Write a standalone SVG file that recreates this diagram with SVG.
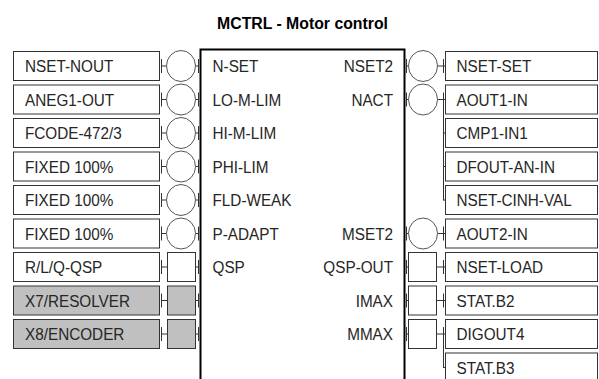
<svg xmlns="http://www.w3.org/2000/svg" width="599" height="379" viewBox="0 0 599 379">
<defs>
<style>
.box{fill:#fff;stroke:#333;stroke-width:1}
.gray{fill:#c0c0c0}
.pin{fill:#fff;stroke:#555;stroke-width:1}
.main{fill:#fff;stroke:#000;stroke-width:2}
.w{stroke:#333;stroke-width:1;fill:none}
.t{font-family:"Liberation Sans",Arial,sans-serif;font-size:17px;fill:#262626}
.e{text-anchor:end}
.title{font-family:"Liberation Sans",Arial,sans-serif;font-size:17px;font-weight:bold;fill:#000;text-anchor:middle}
</style>
</defs>
<rect width="599" height="379" fill="#fff"/>
<text class="title" transform="translate(302.5,29) scale(0.93,1)">MCTRL - Motor control</text>

<g id="mctrl">
<rect class="main" x="200.5" y="49.5" width="204" height="345"/>
<text class="t" transform="translate(212.5,72) scale(0.9,1)">N-SET</text>
<text class="t" transform="translate(212.5,105.5) scale(0.9,1)">LO-M-LIM</text>
<text class="t" transform="translate(212.5,139) scale(0.9,1)">HI-M-LIM</text>
<text class="t" transform="translate(212.5,172.5) scale(0.9,1)">PHI-LIM</text>
<text class="t" transform="translate(212.5,206) scale(0.9,1)">FLD-WEAK</text>
<text class="t" transform="translate(212.5,239.5) scale(0.9,1)">P-ADAPT</text>
<text class="t" transform="translate(212.5,273) scale(0.9,1)">QSP</text>
<text class="t e" transform="translate(393,72) scale(0.9,1)">NSET2</text>
<text class="t e" transform="translate(393,105.5) scale(0.9,1)">NACT</text>
<text class="t e" transform="translate(393,239.5) scale(0.9,1)">MSET2</text>
<text class="t e" transform="translate(393,273) scale(0.9,1)">QSP-OUT</text>
<text class="t e" transform="translate(393,306.5) scale(0.9,1)">IMAX</text>
<text class="t e" transform="translate(393,340) scale(0.9,1)">MMAX</text>
</g>

<g id="src-nset-nout"><rect class="box" x="13.5" y="51.5" width="146" height="29"/><text class="t" transform="translate(25,72) scale(0.9,1)">NSET-NOUT</text></g>
<g id="src-aneg1-out"><rect class="box" x="13.5" y="85" width="146" height="29"/><text class="t" transform="translate(25,105.5) scale(0.9,1)">ANEG1-OUT</text></g>
<g id="src-fcode-472-3"><rect class="box" x="13.5" y="118.5" width="146" height="29"/><text class="t" transform="translate(25,139) scale(0.9,1)">FCODE-472/3</text></g>
<g id="src-fixed-1"><rect class="box" x="13.5" y="152" width="146" height="29"/><text class="t" transform="translate(25,172.5) scale(0.9,1)">FIXED 100%</text></g>
<g id="src-fixed-2"><rect class="box" x="13.5" y="185.5" width="146" height="29"/><text class="t" transform="translate(25,206) scale(0.9,1)">FIXED 100%</text></g>
<g id="src-fixed-3"><rect class="box" x="13.5" y="219" width="146" height="29"/><text class="t" transform="translate(25,239.5) scale(0.9,1)">FIXED 100%</text></g>
<g id="src-rlq-qsp"><rect class="box" x="13.5" y="252.5" width="146" height="29"/><text class="t" transform="translate(25,273) scale(0.9,1)">R/L/Q-QSP</text></g>
<g id="src-x7-resolver"><rect class="box gray" x="13.5" y="286" width="146" height="29"/><text class="t" transform="translate(25,306.5) scale(0.9,1)">X7/RESOLVER</text></g>
<g id="src-x8-encoder"><rect class="box gray" x="13.5" y="319.5" width="146" height="29"/><text class="t" transform="translate(25,340) scale(0.9,1)">X8/ENCODER</text></g>

<g id="dst-nset-set"><rect class="box" x="445.5" y="51.5" width="152" height="29"/><text class="t" transform="translate(456.5,72) scale(0.9,1)">NSET-SET</text></g>
<g id="dst-aout1-in"><rect class="box" x="445.5" y="85" width="152" height="29"/><text class="t" transform="translate(456.5,105.5) scale(0.9,1)">AOUT1-IN</text></g>
<g id="dst-cmp1-in1"><rect class="box" x="445.5" y="118.5" width="152" height="29"/><text class="t" transform="translate(456.5,139) scale(0.9,1)">CMP1-IN1</text></g>
<g id="dst-dfout-an-in"><rect class="box" x="445.5" y="152" width="152" height="29"/><text class="t" transform="translate(456.5,172.5) scale(0.9,1)">DFOUT-AN-IN</text></g>
<g id="dst-nset-cinh-val"><rect class="box" x="445.5" y="185.5" width="152" height="29"/><text class="t" transform="translate(456.5,206) scale(0.9,1)">NSET-CINH-VAL</text></g>
<g id="dst-aout2-in"><rect class="box" x="445.5" y="219" width="152" height="29"/><text class="t" transform="translate(456.5,239.5) scale(0.9,1)">AOUT2-IN</text></g>
<g id="dst-nset-load"><rect class="box" x="445.5" y="252.5" width="152" height="29"/><text class="t" transform="translate(456.5,273) scale(0.9,1)">NSET-LOAD</text></g>
<g id="dst-stat-b2"><rect class="box" x="445.5" y="286" width="152" height="29"/><text class="t" transform="translate(456.5,306.5) scale(0.9,1)">STAT.B2</text></g>
<g id="dst-digout4"><rect class="box" x="445.5" y="319.5" width="152" height="29"/><text class="t" transform="translate(456.5,340) scale(0.9,1)">DIGOUT4</text></g>
<g id="dst-stat-b3"><rect class="box" x="445.5" y="353" width="152" height="29"/><text class="t" transform="translate(456.5,373.5) scale(0.9,1)">STAT.B3</text></g>

<g id="connectors">
<path class="w" d="M161.5,59v14M161.5,66h5M195.5,66h3.5M198.5,59v14
M161.5,92.5v14M161.5,99.5h5M195.5,99.5h3.5M198.5,92.5v14
M161.5,126v14M161.5,133h5M195.5,133h3.5M198.5,126v14
M161.5,159.5v14M161.5,166.5h5M195.5,166.5h3.5M198.5,159.5v14
M161.5,193v14M161.5,200h5M195.5,200h3.5M198.5,193v14
M161.5,226.5v14M161.5,233.5h5M195.5,233.5h3.5M198.5,226.5v14
M161.5,260v14M161.5,267h6M195.5,267h3.5M198.5,260v14
M161.5,293.5v14M161.5,300.5h6M195.5,300.5h3.5M198.5,293.5v14
M161.5,327v14M161.5,334h6M195.5,334h3.5M198.5,327v14"/>
<path class="w" d="M406.5,59v14M406.5,66h2.5M437.5,66h8M443.5,59v14
M406.5,92.5v14M406.5,99.5h2.5M437.5,99.5h8M443.5,92.5V200.5M443.5,133h2M443.5,166.5h2M443.5,200h2
M406.5,226.5v14M406.5,233.5h2.5M437.5,233.5h8M443.5,226.5v14
M406.5,260v14M406.5,267h2M436.5,267h9M443.5,260v14
M406.5,293.5v14M406.5,300.5h2M436.5,300.5h9M443.5,293.5v14
M406.5,327v14M406.5,334h2M436.5,334h9M443.5,327V368M443.5,367.5h2"/>
<ellipse class="pin" cx="181" cy="66" rx="14.5" ry="15.5"/>
<ellipse class="pin" cx="181" cy="99.5" rx="14.5" ry="15.5"/>
<ellipse class="pin" cx="181" cy="133" rx="14.5" ry="15.5"/>
<ellipse class="pin" cx="181" cy="166.5" rx="14.5" ry="15.5"/>
<ellipse class="pin" cx="181" cy="200" rx="14.5" ry="15.5"/>
<ellipse class="pin" cx="181" cy="233.5" rx="14.5" ry="15.5"/>
<rect class="box" x="167.5" y="252.5" width="28" height="29"/>
<rect class="box gray" x="167.5" y="286" width="28" height="29"/>
<rect class="box gray" x="167.5" y="319.5" width="28" height="29"/>
<ellipse class="pin" cx="423" cy="66" rx="14.5" ry="15.5"/>
<ellipse class="pin" cx="423" cy="99.5" rx="14.5" ry="15.5"/>
<ellipse class="pin" cx="423" cy="233.5" rx="14.5" ry="15.5"/>
<rect class="box" x="408.5" y="252.5" width="28" height="29"/>
<rect class="box" x="408.5" y="286" width="28" height="29"/>
<rect class="box" x="408.5" y="319.5" width="28" height="29"/>
</g>
</svg>
